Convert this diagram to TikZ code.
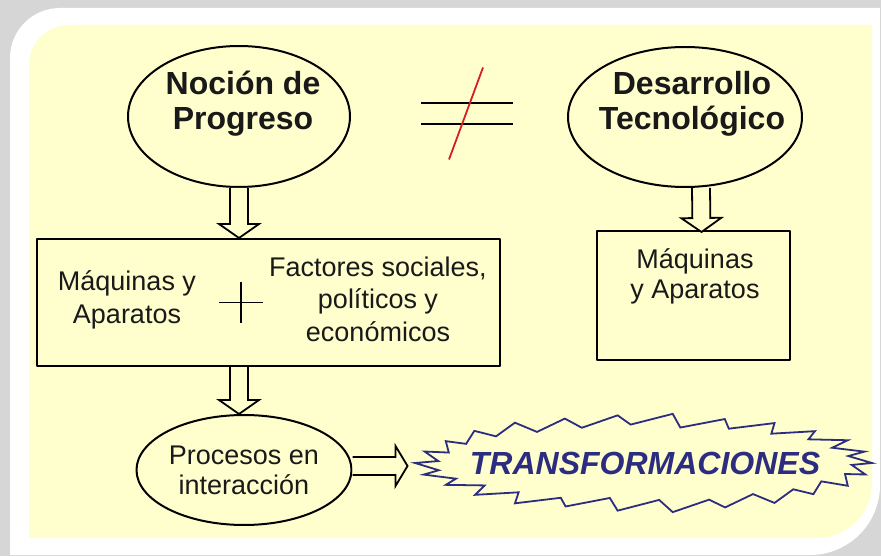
\documentclass[tikz,border=0pt]{standalone}
\usepackage{fontspec}
\setmainfont{Liberation Sans}
\usetikzlibrary{shapes.geometric,calc}

\definecolor{panel}{RGB}{255,255,206}
\definecolor{backgray}{RGB}{214,214,214}
\definecolor{neqred}{RGB}{212,30,36}
\definecolor{navy}{RGB}{44,44,128}

\newcommand{\hollowarrow}[3][14]{%
  \coordinate (ha-s) at (#2);
  \coordinate (ha-t) at (#3);
  \coordinate (ha-b) at ($(ha-t)!#1pt!(ha-s)$);
  \draw[blockarrow] ($(ha-s)!9pt!90:(ha-t)$) -- ($(ha-b)!9pt!90:(ha-t)$) -- ($(ha-b)!20pt!90:(ha-t)$) -- (ha-t)
    -- ($(ha-b)!20pt!-90:(ha-t)$) -- ($(ha-b)!9pt!-90:(ha-t)$) -- ($(ha-s)!9pt!-90:(ha-t)$);
}

\begin{document}
\begin{tikzpicture}[x=1pt,y=-1pt,line join=round,
  bubble/.style={ellipse,draw,line width=2pt,inner sep=0pt},
  framebox/.style={draw,line width=2pt,inner sep=0pt},
  bigtxt/.style={font=\fontsize{32}{35}\selectfont\bfseries,align=center,text=black!90},
  txt/.style={font=\fontsize{27}{33}\selectfont,align=center,text=black!90},
  blockarrow/.style={draw,fill=panel,line width=1.8pt,line join=miter},
  burst/.style={draw=navy,line width=1.8pt,line join=miter},
  eqline/.style={line width=2pt}]
	\useasboundingbox (0,0) rectangle (881,556);
	\fill[backgray] (0,0) rectangle (881,556);
	\begin{scope}
		\clip[rounded corners=70pt] (-300,-300) rectangle (880,555);
		\fill[white,rounded corners=50pt] (10,8) rectangle (1200,900);
	\end{scope}
	\begin{scope}
		\clip[rounded corners=55pt] (-300,-300) rectangle (872,538);
		\fill[panel,rounded corners=40pt] (29,25) rectangle (1200,900);
	\end{scope}
	\node[bubble,minimum width=222pt,minimum height=141pt] (prog) at (239,116.5) {};
	\node[bigtxt] (progtxt) at (243,104) {Noción de\\Progreso};
	\node[bubble,minimum width=234pt,minimum height=140pt] (des) at (685,117) {};
	\node[bigtxt] (destxt) at (692,104) {Desarrollo\\Tecnológico};
	\coordinate (neq) at (467,113.5);
	\draw[eqline] ($(neq)+(-46,-10.5)$) -- ($(neq)+(46,-10.5)$) ($(neq)+(-46,10.5)$) -- ($(neq)+(46,10.5)$);
	\draw[eqline,neqred,line width=1.8pt] ($(neq)+(16,-46)$) -- ($(neq)+(-18,46)$);
	\node[framebox,minimum width=463pt,minimum height=127pt] (maq) at (268.5,302.5) {};
	\node[txt] (maqA) at (127,300) {Máquinas y\\Aparatos};
	\node[txt,font=\fontsize{27}{32.5}\selectfont] (maqB) at (378,299) {Factores sociales,\\políticos y\\económicos};
	\coordinate (plus) at (241,302.5);
	\draw[line width=1.5pt] ($(plus)+(-22,0)$) -- ($(plus)+(22,0)$) ($(plus)+(0,-20.5)$) -- ($(plus)+(0,20.5)$);
	\node[framebox,minimum width=193pt,minimum height=129pt] (tec) at (693.5,295.5) {};
	\node[txt,font=\fontsize{27}{30}\selectfont] (tectxt) at (695,276) {Máquinas\\y Aparatos};
	\node[bubble,font=\fontsize{27}{30}\selectfont,align=center,text=black!90,minimum width=215pt,minimum height=110pt] (proc) at (244,470) {Procesos en\\interacción};
	\node[font=\fontsize{32}{35}\selectfont\bfseries\itshape,text=navy] (trans) at (645,463) {TRANSFORMACIONES};
	\draw[burst] ($(trans)+(0:227 and 48)$)
	  \foreach \k/\r in {0/0,1/2,2/-2,3/1,4/-1,5/3,6/0,7/-3,8/2,9/0,10/-2,11/1,12/3,13/0,14/-2,15/1,16/2,17/-1,18/0,19/3,20/-2,21/1,22/0,23/2,24/-1,25/0} {
	    -- ($(trans)+({\k*360/26+3}:{207+\r} and {37+\r/2})$)
	    -- ($(trans)+({(\k+1)*360/26}:{227+\r} and {48+\r/2})$)
	  } -- cycle;
	\hollowarrow{prog.south}{prog.south |- maq.north}
	\hollowarrow{$(des.south)+(16,0)$}{$(des.south -| tec.north)+(8,44)$}
	\hollowarrow{prog.south |- maq.south}{prog.south |- proc.north}
	\hollowarrow[12]{$(proc.east)+(0,-4)$}{$(proc.east)+(55,-4)$}
\end{tikzpicture}
\end{document}
